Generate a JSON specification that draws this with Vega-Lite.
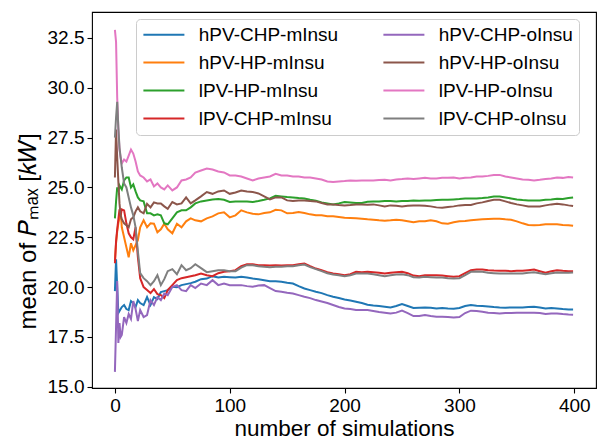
{
"$schema": "https://vega.github.io/schema/vega-lite/v6.json",
"width": 504, "height": 376,
"autosize": {"type": "none"},
"padding": {"left": 92, "top": 12, "right": 4, "bottom": 54},
"background": "white",
"config": {
 "view": {"stroke": "#000000", "strokeWidth": 1.1},
 "axis": {"labelFont": "Liberation Sans", "titleFont": "Liberation Sans", "labelFontSize": 19, "titleFontSize": 22.5, "labelColor": "#000", "titleColor": "#000", "titleFontWeight": "normal", "tickColor": "#000", "tickSize": 5, "tickWidth": 1.1, "domain": false, "grid": false, "labelPadding": 3},
 "legend": {"labelFont": "Liberation Sans", "labelFontSize": 19, "labelColor": "#000"}
},
"data": {"values": [
{"s":"hPV-CHP-mInsu","x":0,"y":19.8},{"s":"hPV-CHP-mInsu","x":1,"y":21.4},{"s":"hPV-CHP-mInsu","x":2,"y":20.0},{"s":"hPV-CHP-mInsu","x":3,"y":18.7},{"s":"hPV-CHP-mInsu","x":4,"y":18.8},{"s":"hPV-CHP-mInsu","x":5,"y":18.9},{"s":"hPV-CHP-mInsu","x":6,"y":19.0},{"s":"hPV-CHP-mInsu","x":8,"y":19.1},{"s":"hPV-CHP-mInsu","x":10,"y":18.9},{"s":"hPV-CHP-mInsu","x":12,"y":18.85},{"s":"hPV-CHP-mInsu","x":14,"y":19.3},{"s":"hPV-CHP-mInsu","x":16,"y":19.2},{"s":"hPV-CHP-mInsu","x":18,"y":19.0},{"s":"hPV-CHP-mInsu","x":20,"y":19.35},{"s":"hPV-CHP-mInsu","x":22,"y":19.2},{"s":"hPV-CHP-mInsu","x":25,"y":19.1},{"s":"hPV-CHP-mInsu","x":28,"y":19.5},{"s":"hPV-CHP-mInsu","x":31,"y":19.1},{"s":"hPV-CHP-mInsu","x":34,"y":19.5},{"s":"hPV-CHP-mInsu","x":37,"y":19.4},{"s":"hPV-CHP-mInsu","x":40,"y":19.75},{"s":"hPV-CHP-mInsu","x":43,"y":19.8},{"s":"hPV-CHP-mInsu","x":46,"y":19.85},{"s":"hPV-CHP-mInsu","x":50,"y":20.02},{"s":"hPV-CHP-mInsu","x":54,"y":20.0},{"s":"hPV-CHP-mInsu","x":58,"y":20.1},{"s":"hPV-CHP-mInsu","x":62,"y":20.15},{"s":"hPV-CHP-mInsu","x":66,"y":20.2},{"s":"hPV-CHP-mInsu","x":70,"y":20.27},{"s":"hPV-CHP-mInsu","x":75,"y":20.4},{"s":"hPV-CHP-mInsu","x":80,"y":20.43},{"s":"hPV-CHP-mInsu","x":85,"y":20.55},{"s":"hPV-CHP-mInsu","x":90,"y":20.48},{"s":"hPV-CHP-mInsu","x":95,"y":20.52},{"s":"hPV-CHP-mInsu","x":100,"y":20.5},{"s":"hPV-CHP-mInsu","x":105,"y":20.48},{"s":"hPV-CHP-mInsu","x":110,"y":20.52},{"s":"hPV-CHP-mInsu","x":115,"y":20.48},{"s":"hPV-CHP-mInsu","x":120,"y":20.43},{"s":"hPV-CHP-mInsu","x":125,"y":20.4},{"s":"hPV-CHP-mInsu","x":130,"y":20.35},{"s":"hPV-CHP-mInsu","x":135,"y":20.3},{"s":"hPV-CHP-mInsu","x":140,"y":20.3},{"s":"hPV-CHP-mInsu","x":145,"y":20.27},{"s":"hPV-CHP-mInsu","x":150,"y":20.22},{"s":"hPV-CHP-mInsu","x":155,"y":20.18},{"s":"hPV-CHP-mInsu","x":160,"y":20.05},{"s":"hPV-CHP-mInsu","x":165,"y":19.93},{"s":"hPV-CHP-mInsu","x":170,"y":19.85},{"s":"hPV-CHP-mInsu","x":175,"y":19.77},{"s":"hPV-CHP-mInsu","x":180,"y":19.7},{"s":"hPV-CHP-mInsu","x":185,"y":19.6},{"s":"hPV-CHP-mInsu","x":190,"y":19.52},{"s":"hPV-CHP-mInsu","x":195,"y":19.45},{"s":"hPV-CHP-mInsu","x":200,"y":19.38},{"s":"hPV-CHP-mInsu","x":205,"y":19.33},{"s":"hPV-CHP-mInsu","x":210,"y":19.27},{"s":"hPV-CHP-mInsu","x":215,"y":19.2},{"s":"hPV-CHP-mInsu","x":220,"y":19.12},{"s":"hPV-CHP-mInsu","x":225,"y":19.08},{"s":"hPV-CHP-mInsu","x":230,"y":19.05},{"s":"hPV-CHP-mInsu","x":235,"y":19.02},{"s":"hPV-CHP-mInsu","x":240,"y":18.98},{"s":"hPV-CHP-mInsu","x":245,"y":19.05},{"s":"hPV-CHP-mInsu","x":250,"y":19.15},{"s":"hPV-CHP-mInsu","x":255,"y":19.05},{"s":"hPV-CHP-mInsu","x":260,"y":18.95},{"s":"hPV-CHP-mInsu","x":265,"y":18.97},{"s":"hPV-CHP-mInsu","x":270,"y":18.98},{"s":"hPV-CHP-mInsu","x":275,"y":18.96},{"s":"hPV-CHP-mInsu","x":280,"y":18.93},{"s":"hPV-CHP-mInsu","x":285,"y":18.95},{"s":"hPV-CHP-mInsu","x":290,"y":18.93},{"s":"hPV-CHP-mInsu","x":295,"y":18.92},{"s":"hPV-CHP-mInsu","x":300,"y":18.95},{"s":"hPV-CHP-mInsu","x":305,"y":19.05},{"s":"hPV-CHP-mInsu","x":310,"y":19.1},{"s":"hPV-CHP-mInsu","x":315,"y":19.07},{"s":"hPV-CHP-mInsu","x":320,"y":19.05},{"s":"hPV-CHP-mInsu","x":325,"y":19.03},{"s":"hPV-CHP-mInsu","x":330,"y":19.0},{"s":"hPV-CHP-mInsu","x":335,"y":18.98},{"s":"hPV-CHP-mInsu","x":340,"y":18.97},{"s":"hPV-CHP-mInsu","x":345,"y":18.98},{"s":"hPV-CHP-mInsu","x":350,"y":18.98},{"s":"hPV-CHP-mInsu","x":355,"y":18.98},{"s":"hPV-CHP-mInsu","x":360,"y":19.0},{"s":"hPV-CHP-mInsu","x":365,"y":19.02},{"s":"hPV-CHP-mInsu","x":370,"y":18.98},{"s":"hPV-CHP-mInsu","x":375,"y":18.93},{"s":"hPV-CHP-mInsu","x":380,"y":18.95},{"s":"hPV-CHP-mInsu","x":385,"y":18.93},{"s":"hPV-CHP-mInsu","x":390,"y":18.9},{"s":"hPV-CHP-mInsu","x":395,"y":18.88},{"s":"hPV-CHP-mInsu","x":399,"y":18.88},
{"s":"hPV-HP-mInsu","x":0,"y":21.3},{"s":"hPV-HP-mInsu","x":1,"y":22.2},{"s":"hPV-HP-mInsu","x":2,"y":22.8},{"s":"hPV-HP-mInsu","x":3,"y":23.2},{"s":"hPV-HP-mInsu","x":4,"y":23.5},{"s":"hPV-HP-mInsu","x":5,"y":23.85},{"s":"hPV-HP-mInsu","x":6,"y":23.0},{"s":"hPV-HP-mInsu","x":8,"y":22.5},{"s":"hPV-HP-mInsu","x":10,"y":22.0},{"s":"hPV-HP-mInsu","x":12,"y":21.5},{"s":"hPV-HP-mInsu","x":14,"y":22.2},{"s":"hPV-HP-mInsu","x":16,"y":21.85},{"s":"hPV-HP-mInsu","x":18,"y":22.1},{"s":"hPV-HP-mInsu","x":20,"y":22.35},{"s":"hPV-HP-mInsu","x":22,"y":23.0},{"s":"hPV-HP-mInsu","x":25,"y":23.35},{"s":"hPV-HP-mInsu","x":28,"y":23.0},{"s":"hPV-HP-mInsu","x":31,"y":23.2},{"s":"hPV-HP-mInsu","x":34,"y":23.18},{"s":"hPV-HP-mInsu","x":37,"y":22.75},{"s":"hPV-HP-mInsu","x":40,"y":22.9},{"s":"hPV-HP-mInsu","x":43,"y":23.18},{"s":"hPV-HP-mInsu","x":46,"y":22.9},{"s":"hPV-HP-mInsu","x":50,"y":22.7},{"s":"hPV-HP-mInsu","x":54,"y":23.18},{"s":"hPV-HP-mInsu","x":58,"y":23.0},{"s":"hPV-HP-mInsu","x":62,"y":23.3},{"s":"hPV-HP-mInsu","x":66,"y":23.45},{"s":"hPV-HP-mInsu","x":70,"y":23.35},{"s":"hPV-HP-mInsu","x":75,"y":23.3},{"s":"hPV-HP-mInsu","x":80,"y":23.45},{"s":"hPV-HP-mInsu","x":85,"y":23.55},{"s":"hPV-HP-mInsu","x":90,"y":23.7},{"s":"hPV-HP-mInsu","x":95,"y":23.75},{"s":"hPV-HP-mInsu","x":100,"y":23.5},{"s":"hPV-HP-mInsu","x":105,"y":23.6},{"s":"hPV-HP-mInsu","x":110,"y":23.85},{"s":"hPV-HP-mInsu","x":115,"y":23.75},{"s":"hPV-HP-mInsu","x":120,"y":23.68},{"s":"hPV-HP-mInsu","x":125,"y":23.65},{"s":"hPV-HP-mInsu","x":130,"y":23.72},{"s":"hPV-HP-mInsu","x":135,"y":23.75},{"s":"hPV-HP-mInsu","x":140,"y":23.88},{"s":"hPV-HP-mInsu","x":145,"y":23.85},{"s":"hPV-HP-mInsu","x":150,"y":23.7},{"s":"hPV-HP-mInsu","x":155,"y":23.72},{"s":"hPV-HP-mInsu","x":160,"y":23.77},{"s":"hPV-HP-mInsu","x":165,"y":23.72},{"s":"hPV-HP-mInsu","x":170,"y":23.65},{"s":"hPV-HP-mInsu","x":175,"y":23.6},{"s":"hPV-HP-mInsu","x":180,"y":23.6},{"s":"hPV-HP-mInsu","x":185,"y":23.55},{"s":"hPV-HP-mInsu","x":190,"y":23.55},{"s":"hPV-HP-mInsu","x":195,"y":23.52},{"s":"hPV-HP-mInsu","x":200,"y":23.48},{"s":"hPV-HP-mInsu","x":205,"y":23.47},{"s":"hPV-HP-mInsu","x":210,"y":23.45},{"s":"hPV-HP-mInsu","x":215,"y":23.43},{"s":"hPV-HP-mInsu","x":220,"y":23.4},{"s":"hPV-HP-mInsu","x":225,"y":23.38},{"s":"hPV-HP-mInsu","x":230,"y":23.35},{"s":"hPV-HP-mInsu","x":235,"y":23.33},{"s":"hPV-HP-mInsu","x":240,"y":23.35},{"s":"hPV-HP-mInsu","x":245,"y":23.38},{"s":"hPV-HP-mInsu","x":250,"y":23.35},{"s":"hPV-HP-mInsu","x":255,"y":23.3},{"s":"hPV-HP-mInsu","x":260,"y":23.25},{"s":"hPV-HP-mInsu","x":265,"y":23.3},{"s":"hPV-HP-mInsu","x":270,"y":23.3},{"s":"hPV-HP-mInsu","x":275,"y":23.35},{"s":"hPV-HP-mInsu","x":280,"y":23.3},{"s":"hPV-HP-mInsu","x":285,"y":23.2},{"s":"hPV-HP-mInsu","x":290,"y":23.18},{"s":"hPV-HP-mInsu","x":295,"y":23.25},{"s":"hPV-HP-mInsu","x":300,"y":23.3},{"s":"hPV-HP-mInsu","x":305,"y":23.32},{"s":"hPV-HP-mInsu","x":310,"y":23.35},{"s":"hPV-HP-mInsu","x":315,"y":23.38},{"s":"hPV-HP-mInsu","x":320,"y":23.4},{"s":"hPV-HP-mInsu","x":325,"y":23.42},{"s":"hPV-HP-mInsu","x":330,"y":23.43},{"s":"hPV-HP-mInsu","x":335,"y":23.43},{"s":"hPV-HP-mInsu","x":340,"y":23.4},{"s":"hPV-HP-mInsu","x":345,"y":23.38},{"s":"hPV-HP-mInsu","x":350,"y":23.3},{"s":"hPV-HP-mInsu","x":355,"y":23.2},{"s":"hPV-HP-mInsu","x":360,"y":23.12},{"s":"hPV-HP-mInsu","x":365,"y":23.1},{"s":"hPV-HP-mInsu","x":370,"y":23.12},{"s":"hPV-HP-mInsu","x":375,"y":23.15},{"s":"hPV-HP-mInsu","x":380,"y":23.15},{"s":"hPV-HP-mInsu","x":385,"y":23.15},{"s":"hPV-HP-mInsu","x":390,"y":23.12},{"s":"hPV-HP-mInsu","x":395,"y":23.1},{"s":"hPV-HP-mInsu","x":399,"y":23.08},
{"s":"lPV-HP-mInsu","x":0,"y":23.45},{"s":"lPV-HP-mInsu","x":1,"y":24.3},{"s":"lPV-HP-mInsu","x":2,"y":25.0},{"s":"lPV-HP-mInsu","x":3,"y":24.8},{"s":"lPV-HP-mInsu","x":4,"y":25.1},{"s":"lPV-HP-mInsu","x":5,"y":25.0},{"s":"lPV-HP-mInsu","x":6,"y":24.9},{"s":"lPV-HP-mInsu","x":8,"y":25.35},{"s":"lPV-HP-mInsu","x":10,"y":25.5},{"s":"lPV-HP-mInsu","x":12,"y":25.5},{"s":"lPV-HP-mInsu","x":14,"y":25.0},{"s":"lPV-HP-mInsu","x":16,"y":25.15},{"s":"lPV-HP-mInsu","x":18,"y":24.8},{"s":"lPV-HP-mInsu","x":20,"y":24.5},{"s":"lPV-HP-mInsu","x":22,"y":24.35},{"s":"lPV-HP-mInsu","x":25,"y":24.3},{"s":"lPV-HP-mInsu","x":28,"y":23.7},{"s":"lPV-HP-mInsu","x":31,"y":23.7},{"s":"lPV-HP-mInsu","x":34,"y":23.6},{"s":"lPV-HP-mInsu","x":37,"y":23.65},{"s":"lPV-HP-mInsu","x":40,"y":23.6},{"s":"lPV-HP-mInsu","x":43,"y":23.2},{"s":"lPV-HP-mInsu","x":46,"y":23.15},{"s":"lPV-HP-mInsu","x":50,"y":23.45},{"s":"lPV-HP-mInsu","x":54,"y":23.75},{"s":"lPV-HP-mInsu","x":58,"y":23.85},{"s":"lPV-HP-mInsu","x":62,"y":23.85},{"s":"lPV-HP-mInsu","x":66,"y":24.0},{"s":"lPV-HP-mInsu","x":70,"y":24.2},{"s":"lPV-HP-mInsu","x":75,"y":24.3},{"s":"lPV-HP-mInsu","x":80,"y":24.35},{"s":"lPV-HP-mInsu","x":85,"y":24.4},{"s":"lPV-HP-mInsu","x":90,"y":24.42},{"s":"lPV-HP-mInsu","x":95,"y":24.38},{"s":"lPV-HP-mInsu","x":100,"y":24.27},{"s":"lPV-HP-mInsu","x":105,"y":24.3},{"s":"lPV-HP-mInsu","x":110,"y":24.3},{"s":"lPV-HP-mInsu","x":115,"y":24.3},{"s":"lPV-HP-mInsu","x":120,"y":24.27},{"s":"lPV-HP-mInsu","x":125,"y":24.32},{"s":"lPV-HP-mInsu","x":130,"y":24.38},{"s":"lPV-HP-mInsu","x":135,"y":24.45},{"s":"lPV-HP-mInsu","x":140,"y":24.58},{"s":"lPV-HP-mInsu","x":145,"y":24.55},{"s":"lPV-HP-mInsu","x":150,"y":24.52},{"s":"lPV-HP-mInsu","x":155,"y":24.5},{"s":"lPV-HP-mInsu","x":160,"y":24.47},{"s":"lPV-HP-mInsu","x":165,"y":24.45},{"s":"lPV-HP-mInsu","x":170,"y":24.38},{"s":"lPV-HP-mInsu","x":175,"y":24.33},{"s":"lPV-HP-mInsu","x":180,"y":24.25},{"s":"lPV-HP-mInsu","x":185,"y":24.2},{"s":"lPV-HP-mInsu","x":190,"y":24.15},{"s":"lPV-HP-mInsu","x":195,"y":24.2},{"s":"lPV-HP-mInsu","x":200,"y":24.27},{"s":"lPV-HP-mInsu","x":205,"y":24.25},{"s":"lPV-HP-mInsu","x":210,"y":24.22},{"s":"lPV-HP-mInsu","x":215,"y":24.22},{"s":"lPV-HP-mInsu","x":220,"y":24.28},{"s":"lPV-HP-mInsu","x":225,"y":24.3},{"s":"lPV-HP-mInsu","x":230,"y":24.3},{"s":"lPV-HP-mInsu","x":235,"y":24.32},{"s":"lPV-HP-mInsu","x":240,"y":24.32},{"s":"lPV-HP-mInsu","x":245,"y":24.3},{"s":"lPV-HP-mInsu","x":250,"y":24.32},{"s":"lPV-HP-mInsu","x":255,"y":24.32},{"s":"lPV-HP-mInsu","x":260,"y":24.35},{"s":"lPV-HP-mInsu","x":265,"y":24.33},{"s":"lPV-HP-mInsu","x":270,"y":24.35},{"s":"lPV-HP-mInsu","x":275,"y":24.35},{"s":"lPV-HP-mInsu","x":280,"y":24.37},{"s":"lPV-HP-mInsu","x":285,"y":24.38},{"s":"lPV-HP-mInsu","x":290,"y":24.38},{"s":"lPV-HP-mInsu","x":295,"y":24.4},{"s":"lPV-HP-mInsu","x":300,"y":24.42},{"s":"lPV-HP-mInsu","x":305,"y":24.45},{"s":"lPV-HP-mInsu","x":310,"y":24.45},{"s":"lPV-HP-mInsu","x":315,"y":24.45},{"s":"lPV-HP-mInsu","x":320,"y":24.47},{"s":"lPV-HP-mInsu","x":325,"y":24.5},{"s":"lPV-HP-mInsu","x":330,"y":24.55},{"s":"lPV-HP-mInsu","x":335,"y":24.55},{"s":"lPV-HP-mInsu","x":340,"y":24.5},{"s":"lPV-HP-mInsu","x":345,"y":24.45},{"s":"lPV-HP-mInsu","x":350,"y":24.4},{"s":"lPV-HP-mInsu","x":355,"y":24.37},{"s":"lPV-HP-mInsu","x":360,"y":24.35},{"s":"lPV-HP-mInsu","x":365,"y":24.35},{"s":"lPV-HP-mInsu","x":370,"y":24.35},{"s":"lPV-HP-mInsu","x":375,"y":24.38},{"s":"lPV-HP-mInsu","x":380,"y":24.4},{"s":"lPV-HP-mInsu","x":385,"y":24.43},{"s":"lPV-HP-mInsu","x":390,"y":24.42},{"s":"lPV-HP-mInsu","x":395,"y":24.47},{"s":"lPV-HP-mInsu","x":399,"y":24.5},
{"s":"lPV-CHP-mInsu","x":0,"y":21.2},{"s":"lPV-CHP-mInsu","x":1,"y":22.3},{"s":"lPV-CHP-mInsu","x":2,"y":22.9},{"s":"lPV-CHP-mInsu","x":3,"y":23.4},{"s":"lPV-CHP-mInsu","x":4,"y":23.9},{"s":"lPV-CHP-mInsu","x":5,"y":23.6},{"s":"lPV-CHP-mInsu","x":6,"y":23.9},{"s":"lPV-CHP-mInsu","x":8,"y":23.85},{"s":"lPV-CHP-mInsu","x":10,"y":23.2},{"s":"lPV-CHP-mInsu","x":12,"y":22.7},{"s":"lPV-CHP-mInsu","x":14,"y":22.5},{"s":"lPV-CHP-mInsu","x":16,"y":22.4},{"s":"lPV-CHP-mInsu","x":18,"y":23.0},{"s":"lPV-CHP-mInsu","x":20,"y":21.5},{"s":"lPV-CHP-mInsu","x":22,"y":20.45},{"s":"lPV-CHP-mInsu","x":25,"y":20.0},{"s":"lPV-CHP-mInsu","x":28,"y":19.85},{"s":"lPV-CHP-mInsu","x":31,"y":19.7},{"s":"lPV-CHP-mInsu","x":34,"y":19.9},{"s":"lPV-CHP-mInsu","x":37,"y":19.65},{"s":"lPV-CHP-mInsu","x":40,"y":19.6},{"s":"lPV-CHP-mInsu","x":43,"y":19.45},{"s":"lPV-CHP-mInsu","x":46,"y":19.85},{"s":"lPV-CHP-mInsu","x":50,"y":20.1},{"s":"lPV-CHP-mInsu","x":54,"y":20.35},{"s":"lPV-CHP-mInsu","x":58,"y":20.45},{"s":"lPV-CHP-mInsu","x":62,"y":20.5},{"s":"lPV-CHP-mInsu","x":66,"y":20.55},{"s":"lPV-CHP-mInsu","x":70,"y":20.6},{"s":"lPV-CHP-mInsu","x":75,"y":20.68},{"s":"lPV-CHP-mInsu","x":80,"y":20.6},{"s":"lPV-CHP-mInsu","x":85,"y":20.55},{"s":"lPV-CHP-mInsu","x":90,"y":20.7},{"s":"lPV-CHP-mInsu","x":95,"y":20.77},{"s":"lPV-CHP-mInsu","x":100,"y":20.8},{"s":"lPV-CHP-mInsu","x":105,"y":20.85},{"s":"lPV-CHP-mInsu","x":110,"y":21.05},{"s":"lPV-CHP-mInsu","x":115,"y":21.15},{"s":"lPV-CHP-mInsu","x":120,"y":21.15},{"s":"lPV-CHP-mInsu","x":125,"y":21.1},{"s":"lPV-CHP-mInsu","x":130,"y":21.1},{"s":"lPV-CHP-mInsu","x":135,"y":21.08},{"s":"lPV-CHP-mInsu","x":140,"y":21.1},{"s":"lPV-CHP-mInsu","x":145,"y":21.08},{"s":"lPV-CHP-mInsu","x":150,"y":21.1},{"s":"lPV-CHP-mInsu","x":155,"y":21.1},{"s":"lPV-CHP-mInsu","x":160,"y":21.15},{"s":"lPV-CHP-mInsu","x":165,"y":21.18},{"s":"lPV-CHP-mInsu","x":170,"y":21.05},{"s":"lPV-CHP-mInsu","x":175,"y":20.93},{"s":"lPV-CHP-mInsu","x":180,"y":20.85},{"s":"lPV-CHP-mInsu","x":185,"y":20.75},{"s":"lPV-CHP-mInsu","x":190,"y":20.68},{"s":"lPV-CHP-mInsu","x":195,"y":20.65},{"s":"lPV-CHP-mInsu","x":200,"y":20.6},{"s":"lPV-CHP-mInsu","x":205,"y":20.65},{"s":"lPV-CHP-mInsu","x":210,"y":20.77},{"s":"lPV-CHP-mInsu","x":215,"y":20.75},{"s":"lPV-CHP-mInsu","x":220,"y":20.77},{"s":"lPV-CHP-mInsu","x":225,"y":20.75},{"s":"lPV-CHP-mInsu","x":230,"y":20.72},{"s":"lPV-CHP-mInsu","x":235,"y":20.68},{"s":"lPV-CHP-mInsu","x":240,"y":20.72},{"s":"lPV-CHP-mInsu","x":245,"y":20.75},{"s":"lPV-CHP-mInsu","x":250,"y":20.77},{"s":"lPV-CHP-mInsu","x":255,"y":20.7},{"s":"lPV-CHP-mInsu","x":260,"y":20.58},{"s":"lPV-CHP-mInsu","x":265,"y":20.55},{"s":"lPV-CHP-mInsu","x":270,"y":20.6},{"s":"lPV-CHP-mInsu","x":275,"y":20.6},{"s":"lPV-CHP-mInsu","x":280,"y":20.6},{"s":"lPV-CHP-mInsu","x":285,"y":20.58},{"s":"lPV-CHP-mInsu","x":290,"y":20.55},{"s":"lPV-CHP-mInsu","x":295,"y":20.52},{"s":"lPV-CHP-mInsu","x":300,"y":20.55},{"s":"lPV-CHP-mInsu","x":305,"y":20.7},{"s":"lPV-CHP-mInsu","x":310,"y":20.85},{"s":"lPV-CHP-mInsu","x":315,"y":20.88},{"s":"lPV-CHP-mInsu","x":320,"y":20.88},{"s":"lPV-CHP-mInsu","x":325,"y":20.85},{"s":"lPV-CHP-mInsu","x":330,"y":20.83},{"s":"lPV-CHP-mInsu","x":335,"y":20.82},{"s":"lPV-CHP-mInsu","x":340,"y":20.82},{"s":"lPV-CHP-mInsu","x":345,"y":20.8},{"s":"lPV-CHP-mInsu","x":350,"y":20.82},{"s":"lPV-CHP-mInsu","x":355,"y":20.82},{"s":"lPV-CHP-mInsu","x":360,"y":20.85},{"s":"lPV-CHP-mInsu","x":365,"y":20.88},{"s":"lPV-CHP-mInsu","x":370,"y":20.8},{"s":"lPV-CHP-mInsu","x":375,"y":20.72},{"s":"lPV-CHP-mInsu","x":380,"y":20.8},{"s":"lPV-CHP-mInsu","x":385,"y":20.85},{"s":"lPV-CHP-mInsu","x":390,"y":20.82},{"s":"lPV-CHP-mInsu","x":395,"y":20.8},{"s":"lPV-CHP-mInsu","x":399,"y":20.8},
{"s":"hPV-CHP-oInsu","x":0,"y":15.75},{"s":"hPV-CHP-oInsu","x":1,"y":18.0},{"s":"hPV-CHP-oInsu","x":2,"y":20.3},{"s":"hPV-CHP-oInsu","x":3,"y":17.2},{"s":"hPV-CHP-oInsu","x":4,"y":18.2},{"s":"hPV-CHP-oInsu","x":5,"y":17.5},{"s":"hPV-CHP-oInsu","x":6,"y":17.6},{"s":"hPV-CHP-oInsu","x":8,"y":18.5},{"s":"hPV-CHP-oInsu","x":10,"y":18.2},{"s":"hPV-CHP-oInsu","x":12,"y":18.65},{"s":"hPV-CHP-oInsu","x":14,"y":18.4},{"s":"hPV-CHP-oInsu","x":16,"y":19.3},{"s":"hPV-CHP-oInsu","x":18,"y":18.9},{"s":"hPV-CHP-oInsu","x":20,"y":18.3},{"s":"hPV-CHP-oInsu","x":22,"y":18.85},{"s":"hPV-CHP-oInsu","x":25,"y":18.5},{"s":"hPV-CHP-oInsu","x":28,"y":18.6},{"s":"hPV-CHP-oInsu","x":31,"y":19.35},{"s":"hPV-CHP-oInsu","x":34,"y":19.1},{"s":"hPV-CHP-oInsu","x":37,"y":19.5},{"s":"hPV-CHP-oInsu","x":40,"y":19.35},{"s":"hPV-CHP-oInsu","x":43,"y":19.68},{"s":"hPV-CHP-oInsu","x":46,"y":19.6},{"s":"hPV-CHP-oInsu","x":50,"y":20.0},{"s":"hPV-CHP-oInsu","x":54,"y":20.1},{"s":"hPV-CHP-oInsu","x":58,"y":19.85},{"s":"hPV-CHP-oInsu","x":62,"y":19.8},{"s":"hPV-CHP-oInsu","x":66,"y":20.1},{"s":"hPV-CHP-oInsu","x":70,"y":19.95},{"s":"hPV-CHP-oInsu","x":75,"y":20.18},{"s":"hPV-CHP-oInsu","x":80,"y":20.1},{"s":"hPV-CHP-oInsu","x":85,"y":20.35},{"s":"hPV-CHP-oInsu","x":90,"y":20.1},{"s":"hPV-CHP-oInsu","x":95,"y":20.18},{"s":"hPV-CHP-oInsu","x":100,"y":20.1},{"s":"hPV-CHP-oInsu","x":105,"y":20.1},{"s":"hPV-CHP-oInsu","x":110,"y":20.1},{"s":"hPV-CHP-oInsu","x":115,"y":20.05},{"s":"hPV-CHP-oInsu","x":120,"y":20.02},{"s":"hPV-CHP-oInsu","x":125,"y":20.08},{"s":"hPV-CHP-oInsu","x":130,"y":20.1},{"s":"hPV-CHP-oInsu","x":135,"y":19.95},{"s":"hPV-CHP-oInsu","x":140,"y":19.8},{"s":"hPV-CHP-oInsu","x":145,"y":19.77},{"s":"hPV-CHP-oInsu","x":150,"y":19.72},{"s":"hPV-CHP-oInsu","x":155,"y":19.68},{"s":"hPV-CHP-oInsu","x":160,"y":19.6},{"s":"hPV-CHP-oInsu","x":165,"y":19.52},{"s":"hPV-CHP-oInsu","x":170,"y":19.45},{"s":"hPV-CHP-oInsu","x":175,"y":19.35},{"s":"hPV-CHP-oInsu","x":180,"y":19.28},{"s":"hPV-CHP-oInsu","x":185,"y":19.2},{"s":"hPV-CHP-oInsu","x":190,"y":19.1},{"s":"hPV-CHP-oInsu","x":195,"y":19.0},{"s":"hPV-CHP-oInsu","x":200,"y":18.93},{"s":"hPV-CHP-oInsu","x":205,"y":18.9},{"s":"hPV-CHP-oInsu","x":210,"y":18.85},{"s":"hPV-CHP-oInsu","x":215,"y":18.85},{"s":"hPV-CHP-oInsu","x":220,"y":18.85},{"s":"hPV-CHP-oInsu","x":225,"y":18.8},{"s":"hPV-CHP-oInsu","x":230,"y":18.75},{"s":"hPV-CHP-oInsu","x":235,"y":18.72},{"s":"hPV-CHP-oInsu","x":240,"y":18.68},{"s":"hPV-CHP-oInsu","x":245,"y":18.72},{"s":"hPV-CHP-oInsu","x":250,"y":18.82},{"s":"hPV-CHP-oInsu","x":255,"y":18.7},{"s":"hPV-CHP-oInsu","x":260,"y":18.55},{"s":"hPV-CHP-oInsu","x":265,"y":18.55},{"s":"hPV-CHP-oInsu","x":270,"y":18.6},{"s":"hPV-CHP-oInsu","x":275,"y":18.55},{"s":"hPV-CHP-oInsu","x":280,"y":18.52},{"s":"hPV-CHP-oInsu","x":285,"y":18.52},{"s":"hPV-CHP-oInsu","x":290,"y":18.5},{"s":"hPV-CHP-oInsu","x":295,"y":18.48},{"s":"hPV-CHP-oInsu","x":300,"y":18.5},{"s":"hPV-CHP-oInsu","x":305,"y":18.7},{"s":"hPV-CHP-oInsu","x":310,"y":18.82},{"s":"hPV-CHP-oInsu","x":315,"y":18.8},{"s":"hPV-CHP-oInsu","x":320,"y":18.77},{"s":"hPV-CHP-oInsu","x":325,"y":18.72},{"s":"hPV-CHP-oInsu","x":330,"y":18.7},{"s":"hPV-CHP-oInsu","x":335,"y":18.68},{"s":"hPV-CHP-oInsu","x":340,"y":18.7},{"s":"hPV-CHP-oInsu","x":345,"y":18.7},{"s":"hPV-CHP-oInsu","x":350,"y":18.72},{"s":"hPV-CHP-oInsu","x":355,"y":18.72},{"s":"hPV-CHP-oInsu","x":360,"y":18.72},{"s":"hPV-CHP-oInsu","x":365,"y":18.72},{"s":"hPV-CHP-oInsu","x":370,"y":18.7},{"s":"hPV-CHP-oInsu","x":375,"y":18.65},{"s":"hPV-CHP-oInsu","x":380,"y":18.68},{"s":"hPV-CHP-oInsu","x":385,"y":18.68},{"s":"hPV-CHP-oInsu","x":390,"y":18.65},{"s":"hPV-CHP-oInsu","x":395,"y":18.63},{"s":"hPV-CHP-oInsu","x":399,"y":18.62},
{"s":"hPV-HP-oInsu","x":0,"y":25.5},{"s":"hPV-HP-oInsu","x":1,"y":27.9},{"s":"hPV-HP-oInsu","x":2,"y":26.5},{"s":"hPV-HP-oInsu","x":3,"y":25.3},{"s":"hPV-HP-oInsu","x":4,"y":24.2},{"s":"hPV-HP-oInsu","x":5,"y":23.6},{"s":"hPV-HP-oInsu","x":6,"y":23.4},{"s":"hPV-HP-oInsu","x":8,"y":23.2},{"s":"hPV-HP-oInsu","x":10,"y":23.1},{"s":"hPV-HP-oInsu","x":12,"y":23.0},{"s":"hPV-HP-oInsu","x":14,"y":23.4},{"s":"hPV-HP-oInsu","x":16,"y":23.5},{"s":"hPV-HP-oInsu","x":18,"y":23.8},{"s":"hPV-HP-oInsu","x":20,"y":24.0},{"s":"hPV-HP-oInsu","x":22,"y":23.8},{"s":"hPV-HP-oInsu","x":25,"y":23.7},{"s":"hPV-HP-oInsu","x":28,"y":24.18},{"s":"hPV-HP-oInsu","x":31,"y":24.0},{"s":"hPV-HP-oInsu","x":34,"y":24.25},{"s":"hPV-HP-oInsu","x":37,"y":24.2},{"s":"hPV-HP-oInsu","x":40,"y":24.2},{"s":"hPV-HP-oInsu","x":43,"y":24.05},{"s":"hPV-HP-oInsu","x":46,"y":23.93},{"s":"hPV-HP-oInsu","x":50,"y":24.27},{"s":"hPV-HP-oInsu","x":54,"y":24.15},{"s":"hPV-HP-oInsu","x":58,"y":24.2},{"s":"hPV-HP-oInsu","x":62,"y":24.5},{"s":"hPV-HP-oInsu","x":66,"y":24.2},{"s":"hPV-HP-oInsu","x":70,"y":24.35},{"s":"hPV-HP-oInsu","x":75,"y":24.55},{"s":"hPV-HP-oInsu","x":80,"y":24.77},{"s":"hPV-HP-oInsu","x":85,"y":24.68},{"s":"hPV-HP-oInsu","x":90,"y":24.8},{"s":"hPV-HP-oInsu","x":95,"y":24.85},{"s":"hPV-HP-oInsu","x":100,"y":24.68},{"s":"hPV-HP-oInsu","x":105,"y":24.75},{"s":"hPV-HP-oInsu","x":110,"y":24.85},{"s":"hPV-HP-oInsu","x":115,"y":24.8},{"s":"hPV-HP-oInsu","x":120,"y":24.77},{"s":"hPV-HP-oInsu","x":125,"y":24.7},{"s":"hPV-HP-oInsu","x":130,"y":24.55},{"s":"hPV-HP-oInsu","x":135,"y":24.4},{"s":"hPV-HP-oInsu","x":140,"y":24.5},{"s":"hPV-HP-oInsu","x":145,"y":24.5},{"s":"hPV-HP-oInsu","x":150,"y":24.35},{"s":"hPV-HP-oInsu","x":155,"y":24.32},{"s":"hPV-HP-oInsu","x":160,"y":24.35},{"s":"hPV-HP-oInsu","x":165,"y":24.35},{"s":"hPV-HP-oInsu","x":170,"y":24.32},{"s":"hPV-HP-oInsu","x":175,"y":24.3},{"s":"hPV-HP-oInsu","x":180,"y":24.22},{"s":"hPV-HP-oInsu","x":185,"y":24.15},{"s":"hPV-HP-oInsu","x":190,"y":24.15},{"s":"hPV-HP-oInsu","x":195,"y":24.12},{"s":"hPV-HP-oInsu","x":200,"y":24.1},{"s":"hPV-HP-oInsu","x":205,"y":24.12},{"s":"hPV-HP-oInsu","x":210,"y":24.15},{"s":"hPV-HP-oInsu","x":215,"y":24.15},{"s":"hPV-HP-oInsu","x":220,"y":24.13},{"s":"hPV-HP-oInsu","x":225,"y":24.15},{"s":"hPV-HP-oInsu","x":230,"y":24.1},{"s":"hPV-HP-oInsu","x":235,"y":24.05},{"s":"hPV-HP-oInsu","x":240,"y":24.1},{"s":"hPV-HP-oInsu","x":245,"y":24.08},{"s":"hPV-HP-oInsu","x":250,"y":24.05},{"s":"hPV-HP-oInsu","x":255,"y":24.08},{"s":"hPV-HP-oInsu","x":260,"y":24.1},{"s":"hPV-HP-oInsu","x":265,"y":24.1},{"s":"hPV-HP-oInsu","x":270,"y":24.08},{"s":"hPV-HP-oInsu","x":275,"y":24.05},{"s":"hPV-HP-oInsu","x":280,"y":24.0},{"s":"hPV-HP-oInsu","x":285,"y":23.98},{"s":"hPV-HP-oInsu","x":290,"y":24.02},{"s":"hPV-HP-oInsu","x":295,"y":24.05},{"s":"hPV-HP-oInsu","x":300,"y":24.1},{"s":"hPV-HP-oInsu","x":305,"y":24.12},{"s":"hPV-HP-oInsu","x":310,"y":24.12},{"s":"hPV-HP-oInsu","x":315,"y":24.2},{"s":"hPV-HP-oInsu","x":320,"y":24.25},{"s":"hPV-HP-oInsu","x":325,"y":24.32},{"s":"hPV-HP-oInsu","x":330,"y":24.38},{"s":"hPV-HP-oInsu","x":335,"y":24.38},{"s":"hPV-HP-oInsu","x":340,"y":24.3},{"s":"hPV-HP-oInsu","x":345,"y":24.22},{"s":"hPV-HP-oInsu","x":350,"y":24.15},{"s":"hPV-HP-oInsu","x":355,"y":24.1},{"s":"hPV-HP-oInsu","x":360,"y":24.05},{"s":"hPV-HP-oInsu","x":365,"y":24.05},{"s":"hPV-HP-oInsu","x":370,"y":24.05},{"s":"hPV-HP-oInsu","x":375,"y":24.1},{"s":"hPV-HP-oInsu","x":380,"y":24.15},{"s":"hPV-HP-oInsu","x":385,"y":24.18},{"s":"hPV-HP-oInsu","x":390,"y":24.15},{"s":"hPV-HP-oInsu","x":395,"y":24.1},{"s":"hPV-HP-oInsu","x":399,"y":24.07},
{"s":"lPV-HP-oInsu","x":0,"y":32.9},{"s":"lPV-HP-oInsu","x":1,"y":32.3},{"s":"lPV-HP-oInsu","x":2,"y":29.5},{"s":"lPV-HP-oInsu","x":3,"y":27.9},{"s":"lPV-HP-oInsu","x":4,"y":26.9},{"s":"lPV-HP-oInsu","x":5,"y":26.5},{"s":"lPV-HP-oInsu","x":6,"y":26.2},{"s":"lPV-HP-oInsu","x":8,"y":26.4},{"s":"lPV-HP-oInsu","x":10,"y":26.3},{"s":"lPV-HP-oInsu","x":12,"y":26.6},{"s":"lPV-HP-oInsu","x":14,"y":26.9},{"s":"lPV-HP-oInsu","x":16,"y":26.7},{"s":"lPV-HP-oInsu","x":18,"y":26.3},{"s":"lPV-HP-oInsu","x":20,"y":25.8},{"s":"lPV-HP-oInsu","x":22,"y":25.6},{"s":"lPV-HP-oInsu","x":25,"y":25.5},{"s":"lPV-HP-oInsu","x":28,"y":25.3},{"s":"lPV-HP-oInsu","x":31,"y":25.4},{"s":"lPV-HP-oInsu","x":34,"y":25.05},{"s":"lPV-HP-oInsu","x":37,"y":25.2},{"s":"lPV-HP-oInsu","x":40,"y":25.0},{"s":"lPV-HP-oInsu","x":43,"y":24.9},{"s":"lPV-HP-oInsu","x":46,"y":25.1},{"s":"lPV-HP-oInsu","x":50,"y":24.85},{"s":"lPV-HP-oInsu","x":54,"y":25.0},{"s":"lPV-HP-oInsu","x":58,"y":25.35},{"s":"lPV-HP-oInsu","x":62,"y":25.4},{"s":"lPV-HP-oInsu","x":66,"y":25.5},{"s":"lPV-HP-oInsu","x":70,"y":25.75},{"s":"lPV-HP-oInsu","x":75,"y":25.85},{"s":"lPV-HP-oInsu","x":80,"y":25.95},{"s":"lPV-HP-oInsu","x":85,"y":25.9},{"s":"lPV-HP-oInsu","x":90,"y":25.8},{"s":"lPV-HP-oInsu","x":95,"y":25.75},{"s":"lPV-HP-oInsu","x":100,"y":25.6},{"s":"lPV-HP-oInsu","x":105,"y":25.6},{"s":"lPV-HP-oInsu","x":110,"y":25.55},{"s":"lPV-HP-oInsu","x":115,"y":25.45},{"s":"lPV-HP-oInsu","x":120,"y":25.35},{"s":"lPV-HP-oInsu","x":125,"y":25.45},{"s":"lPV-HP-oInsu","x":130,"y":25.5},{"s":"lPV-HP-oInsu","x":135,"y":25.55},{"s":"lPV-HP-oInsu","x":140,"y":25.68},{"s":"lPV-HP-oInsu","x":145,"y":25.6},{"s":"lPV-HP-oInsu","x":150,"y":25.6},{"s":"lPV-HP-oInsu","x":155,"y":25.55},{"s":"lPV-HP-oInsu","x":160,"y":25.55},{"s":"lPV-HP-oInsu","x":165,"y":25.5},{"s":"lPV-HP-oInsu","x":170,"y":25.5},{"s":"lPV-HP-oInsu","x":175,"y":25.45},{"s":"lPV-HP-oInsu","x":180,"y":25.4},{"s":"lPV-HP-oInsu","x":185,"y":25.3},{"s":"lPV-HP-oInsu","x":190,"y":25.27},{"s":"lPV-HP-oInsu","x":195,"y":25.3},{"s":"lPV-HP-oInsu","x":200,"y":25.32},{"s":"lPV-HP-oInsu","x":205,"y":25.35},{"s":"lPV-HP-oInsu","x":210,"y":25.33},{"s":"lPV-HP-oInsu","x":215,"y":25.35},{"s":"lPV-HP-oInsu","x":220,"y":25.35},{"s":"lPV-HP-oInsu","x":225,"y":25.35},{"s":"lPV-HP-oInsu","x":230,"y":25.37},{"s":"lPV-HP-oInsu","x":235,"y":25.38},{"s":"lPV-HP-oInsu","x":240,"y":25.35},{"s":"lPV-HP-oInsu","x":245,"y":25.4},{"s":"lPV-HP-oInsu","x":250,"y":25.42},{"s":"lPV-HP-oInsu","x":255,"y":25.45},{"s":"lPV-HP-oInsu","x":260,"y":25.42},{"s":"lPV-HP-oInsu","x":265,"y":25.45},{"s":"lPV-HP-oInsu","x":270,"y":25.48},{"s":"lPV-HP-oInsu","x":275,"y":25.45},{"s":"lPV-HP-oInsu","x":280,"y":25.45},{"s":"lPV-HP-oInsu","x":285,"y":25.48},{"s":"lPV-HP-oInsu","x":290,"y":25.48},{"s":"lPV-HP-oInsu","x":295,"y":25.5},{"s":"lPV-HP-oInsu","x":300,"y":25.45},{"s":"lPV-HP-oInsu","x":305,"y":25.48},{"s":"lPV-HP-oInsu","x":310,"y":25.5},{"s":"lPV-HP-oInsu","x":315,"y":25.55},{"s":"lPV-HP-oInsu","x":320,"y":25.55},{"s":"lPV-HP-oInsu","x":325,"y":25.58},{"s":"lPV-HP-oInsu","x":330,"y":25.62},{"s":"lPV-HP-oInsu","x":335,"y":25.63},{"s":"lPV-HP-oInsu","x":340,"y":25.55},{"s":"lPV-HP-oInsu","x":345,"y":25.5},{"s":"lPV-HP-oInsu","x":350,"y":25.45},{"s":"lPV-HP-oInsu","x":355,"y":25.4},{"s":"lPV-HP-oInsu","x":360,"y":25.38},{"s":"lPV-HP-oInsu","x":365,"y":25.35},{"s":"lPV-HP-oInsu","x":370,"y":25.38},{"s":"lPV-HP-oInsu","x":375,"y":25.42},{"s":"lPV-HP-oInsu","x":380,"y":25.45},{"s":"lPV-HP-oInsu","x":385,"y":25.5},{"s":"lPV-HP-oInsu","x":390,"y":25.48},{"s":"lPV-HP-oInsu","x":395,"y":25.52},{"s":"lPV-HP-oInsu","x":399,"y":25.5},
{"s":"lPV-CHP-oInsu","x":0,"y":27.5},{"s":"lPV-CHP-oInsu","x":1,"y":28.5},{"s":"lPV-CHP-oInsu","x":2,"y":29.3},{"s":"lPV-CHP-oInsu","x":3,"y":28.0},{"s":"lPV-CHP-oInsu","x":4,"y":27.0},{"s":"lPV-CHP-oInsu","x":5,"y":26.5},{"s":"lPV-CHP-oInsu","x":6,"y":26.0},{"s":"lPV-CHP-oInsu","x":8,"y":25.2},{"s":"lPV-CHP-oInsu","x":10,"y":25.0},{"s":"lPV-CHP-oInsu","x":12,"y":24.5},{"s":"lPV-CHP-oInsu","x":14,"y":24.0},{"s":"lPV-CHP-oInsu","x":16,"y":23.6},{"s":"lPV-CHP-oInsu","x":18,"y":23.0},{"s":"lPV-CHP-oInsu","x":20,"y":21.8},{"s":"lPV-CHP-oInsu","x":22,"y":20.7},{"s":"lPV-CHP-oInsu","x":25,"y":20.45},{"s":"lPV-CHP-oInsu","x":28,"y":20.3},{"s":"lPV-CHP-oInsu","x":31,"y":20.1},{"s":"lPV-CHP-oInsu","x":34,"y":20.3},{"s":"lPV-CHP-oInsu","x":37,"y":20.6},{"s":"lPV-CHP-oInsu","x":40,"y":20.1},{"s":"lPV-CHP-oInsu","x":43,"y":20.4},{"s":"lPV-CHP-oInsu","x":46,"y":20.8},{"s":"lPV-CHP-oInsu","x":50,"y":20.9},{"s":"lPV-CHP-oInsu","x":54,"y":20.65},{"s":"lPV-CHP-oInsu","x":58,"y":21.1},{"s":"lPV-CHP-oInsu","x":62,"y":20.85},{"s":"lPV-CHP-oInsu","x":66,"y":20.95},{"s":"lPV-CHP-oInsu","x":70,"y":21.15},{"s":"lPV-CHP-oInsu","x":75,"y":20.95},{"s":"lPV-CHP-oInsu","x":80,"y":20.75},{"s":"lPV-CHP-oInsu","x":85,"y":20.8},{"s":"lPV-CHP-oInsu","x":90,"y":20.85},{"s":"lPV-CHP-oInsu","x":95,"y":20.85},{"s":"lPV-CHP-oInsu","x":100,"y":20.8},{"s":"lPV-CHP-oInsu","x":105,"y":20.8},{"s":"lPV-CHP-oInsu","x":110,"y":20.98},{"s":"lPV-CHP-oInsu","x":115,"y":21.1},{"s":"lPV-CHP-oInsu","x":120,"y":21.1},{"s":"lPV-CHP-oInsu","x":125,"y":21.05},{"s":"lPV-CHP-oInsu","x":130,"y":21.02},{"s":"lPV-CHP-oInsu","x":135,"y":21.0},{"s":"lPV-CHP-oInsu","x":140,"y":21.02},{"s":"lPV-CHP-oInsu","x":145,"y":21.02},{"s":"lPV-CHP-oInsu","x":150,"y":21.05},{"s":"lPV-CHP-oInsu","x":155,"y":21.05},{"s":"lPV-CHP-oInsu","x":160,"y":21.1},{"s":"lPV-CHP-oInsu","x":165,"y":21.13},{"s":"lPV-CHP-oInsu","x":170,"y":21.0},{"s":"lPV-CHP-oInsu","x":175,"y":20.9},{"s":"lPV-CHP-oInsu","x":180,"y":20.8},{"s":"lPV-CHP-oInsu","x":185,"y":20.7},{"s":"lPV-CHP-oInsu","x":190,"y":20.63},{"s":"lPV-CHP-oInsu","x":195,"y":20.6},{"s":"lPV-CHP-oInsu","x":200,"y":20.55},{"s":"lPV-CHP-oInsu","x":205,"y":20.6},{"s":"lPV-CHP-oInsu","x":210,"y":20.68},{"s":"lPV-CHP-oInsu","x":215,"y":20.68},{"s":"lPV-CHP-oInsu","x":220,"y":20.68},{"s":"lPV-CHP-oInsu","x":225,"y":20.65},{"s":"lPV-CHP-oInsu","x":230,"y":20.6},{"s":"lPV-CHP-oInsu","x":235,"y":20.55},{"s":"lPV-CHP-oInsu","x":240,"y":20.6},{"s":"lPV-CHP-oInsu","x":245,"y":20.63},{"s":"lPV-CHP-oInsu","x":250,"y":20.65},{"s":"lPV-CHP-oInsu","x":255,"y":20.6},{"s":"lPV-CHP-oInsu","x":260,"y":20.5},{"s":"lPV-CHP-oInsu","x":265,"y":20.48},{"s":"lPV-CHP-oInsu","x":270,"y":20.52},{"s":"lPV-CHP-oInsu","x":275,"y":20.5},{"s":"lPV-CHP-oInsu","x":280,"y":20.48},{"s":"lPV-CHP-oInsu","x":285,"y":20.48},{"s":"lPV-CHP-oInsu","x":290,"y":20.45},{"s":"lPV-CHP-oInsu","x":295,"y":20.43},{"s":"lPV-CHP-oInsu","x":300,"y":20.45},{"s":"lPV-CHP-oInsu","x":305,"y":20.6},{"s":"lPV-CHP-oInsu","x":310,"y":20.77},{"s":"lPV-CHP-oInsu","x":315,"y":20.78},{"s":"lPV-CHP-oInsu","x":320,"y":20.77},{"s":"lPV-CHP-oInsu","x":325,"y":20.72},{"s":"lPV-CHP-oInsu","x":330,"y":20.7},{"s":"lPV-CHP-oInsu","x":335,"y":20.68},{"s":"lPV-CHP-oInsu","x":340,"y":20.68},{"s":"lPV-CHP-oInsu","x":345,"y":20.68},{"s":"lPV-CHP-oInsu","x":350,"y":20.68},{"s":"lPV-CHP-oInsu","x":355,"y":20.68},{"s":"lPV-CHP-oInsu","x":360,"y":20.72},{"s":"lPV-CHP-oInsu","x":365,"y":20.75},{"s":"lPV-CHP-oInsu","x":370,"y":20.7},{"s":"lPV-CHP-oInsu","x":375,"y":20.65},{"s":"lPV-CHP-oInsu","x":380,"y":20.7},{"s":"lPV-CHP-oInsu","x":385,"y":20.73},{"s":"lPV-CHP-oInsu","x":390,"y":20.72},{"s":"lPV-CHP-oInsu","x":395,"y":20.72},{"s":"lPV-CHP-oInsu","x":399,"y":20.73}
]},
"mark": {"type": "line", "strokeWidth": 2, "clip": true},
"encoding": {
 "x": {"field": "x", "type": "quantitative", "scale": {"domain": [-19.95, 418.95], "nice": false, "zero": false}, "axis": {"values": [0, 100, 200, 300, 400], "title": "number of simulations", "titlePadding": 2}},
 "y": {"field": "y", "type": "quantitative", "scale": {"domain": [14.94, 33.8], "nice": false, "zero": false}, "axis": {"values": [15, 17.5, 20, 22.5, 25, 27.5, 30, 32.5], "format": ".1f", "title": "mean of 𝑃ₘₐₓ [𝑘𝑊]", "titleFontSize": 24, "titlePadding": 7, "titleY": 219}},
 "color": {"field": "s", "type": "nominal",
  "scale": {"domain": ["hPV-CHP-mInsu", "hPV-HP-mInsu", "lPV-HP-mInsu", "lPV-CHP-mInsu", "hPV-CHP-oInsu", "hPV-HP-oInsu", "lPV-HP-oInsu", "lPV-CHP-oInsu"], "range": ["#1f77b4", "#ff7f0e", "#2ca02c", "#d62728", "#9467bd", "#8c564b", "#e377c2", "#7f7f7f"]},
  "legend": {"title": null, "orient": "none", "legendX": 44, "legendY": 7, "columns": 2, "columnPadding": 40, "rowPadding": 8, "symbolType": "M-1.157,0L4.7,0", "symbolSize": 196, "symbolStrokeWidth": 2.2, "symbolFillColor": "transparent", "labelOffset": 37.8, "padding": 6, "fillColor": "rgba(255,255,255,0.8)", "strokeColor": "#cccccc", "cornerRadius": 4}
 }
}
}
